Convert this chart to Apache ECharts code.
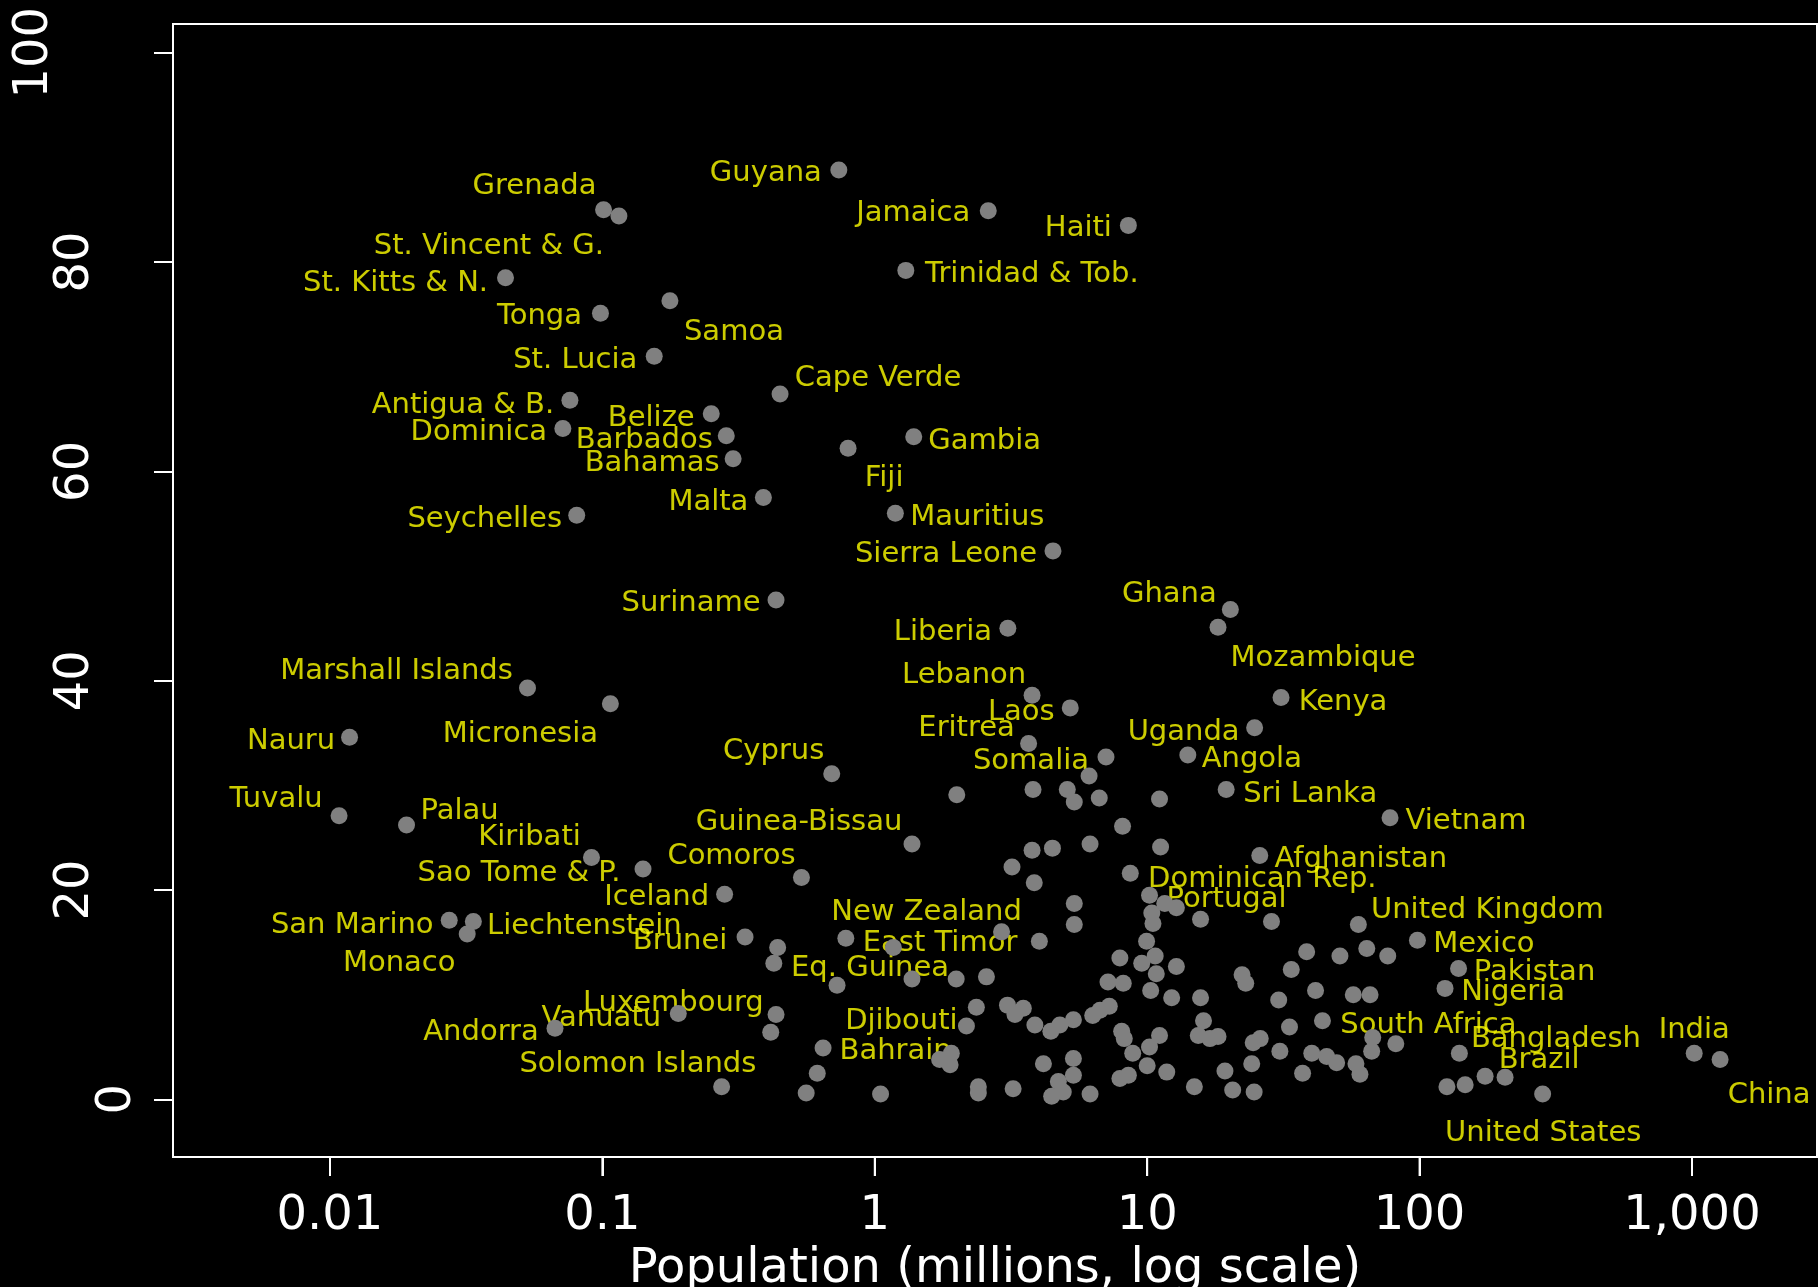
<!DOCTYPE html>
<html>
<head>
<meta charset="utf-8">
<script src="https://cdn.jsdelivr.net/npm/echarts@6/dist/echarts.min.js"></script>
<style>
html,body{margin:0;padding:0;background:#000;}
#chart{width:1818px;height:1287px;}
</style>
</head>
<body>
<div id="chart"></div>
<script>
// ---------- DATA ----------
const labeledNames = ['Grenada','St. Vincent & G.','St. Kitts & N.','Tonga','Samoa','St. Lucia','Antigua & B.','Dominica','Guyana','Jamaica','Haiti','Trinidad & Tob.','Cape Verde','Belize','Barbados','Gambia','Fiji','Bahamas','Malta','Mauritius','Sierra Leone','Seychelles','Suriname','Liberia','Ghana','Mozambique','Marshall Islands','Micronesia','Lebanon','Laos','Kenya','Nauru','Eritrea','Uganda','Somalia','Angola','Cyprus','Sri Lanka','Tuvalu','Palau','Vietnam','Guinea-Bissau','Kiribati','Afghanistan','Sao Tome & P.','Comoros','Dominican Rep.','Iceland','Portugal','United Kingdom','Mexico','San Marino','Liechtenstein','Monaco','Brunei','New Zealand','East Timor','Pakistan','Eq. Guinea','Nigeria','Luxembourg','Vanuatu','Andorra','Djibouti','South Africa','Bahrain','Bangladesh','India','Brazil','Solomon Islands','China','United States'];
const labeledPop = [0.101,0.115,0.0441,0.0984,0.177,0.155,0.076,0.0716,0.738,2.61,8.53,1.30,0.449,0.251,0.285,1.39,0.798,0.302,0.390,1.19,4.51,0.0805,0.434,3.08,20.2,18.2,0.0531,0.107,3.78,5.22,31.0,0.0118,3.67,24.8,7.06,14.1,0.695,19.5,0.0108,0.0191,77.9,1.37,0.0912,25.9,0.141,0.538,8.67,0.281,10.2,59.6,98.2,0.0274,0.0336,0.0319,0.334,2.92,1.17,139,0.727,124,0.434,0.190,0.067,2.17,44.0,1.73,140,1019,174,0.274,1268,283];
const labeledShare = [85.0,84.4,78.5,75.1,76.3,71.0,66.8,64.1,88.8,84.9,83.5,79.2,67.4,65.5,63.4,63.3,62.2,61.2,57.5,56.0,52.4,55.8,47.7,45.0,46.8,45.1,39.3,37.8,38.6,37.4,38.4,34.6,34.0,35.5,32.7,32.9,31.1,29.6,27.1,26.2,26.9,24.4,23.1,23.3,22.0,21.2,21.6,19.6,19.5,16.7,15.2,17.1,17.0,15.8,15.5,16.0,14.5,12.5,10.9,10.6,8.1,8.2,6.8,7.0,7.5,3.8,4.4,4.4,2.2,1.2,3.8,0.5];

const otherPop = [6.12,3.81,5.09,5.40,6.67,2.00,8.12,11.1,3.78,4.49,6.17,11.2,3.19,3.85,5.40,5.40,11.6,12.8,10.4,10.5,15.7,28.6,0.783,4.02,0.440,0.426,9.95,10.7,9.55,10.8,12.8,38.5,51.0,64.0,76.4,33.8,22.3,23.0,1.37,1.99,2.57,7.94,7.18,8.17,10.3,12.3,15.7,30.4,41.5,57.1,65.8,2.36,3.07,3.27,3.51,3.87,4.43,4.78,5.36,6.31,6.71,7.26,8.06,8.24,8.85,0.415,0.646,0.615,0.560,1.05,1.91,1.89,2.40,2.40,3.22,4.16,5.36,5.36,4.72,4.46,4.92,6.17,7.94,8.53,10.0,10.2,11.1,16.1,33.3,15.4,17.0,18.2,24.5,26.0,30.7,40.2,45.6,49.6,58.4,60.4,67.3,66.7,81.8,11.8,14.9,19.3,20.6,24.7,24.2,37.2,126,147,206];
const otherShare = [30.9,29.6,29.6,28.4,28.8,29.1,26.1,28.7,23.8,24.0,24.4,24.1,22.2,20.7,18.7,16.7,18.7,18.3,17.8,16.8,17.2,17.0,15.4,15.1,14.5,13.0,15.1,13.7,13.0,12.0,12.7,14.1,13.7,14.4,13.7,12.4,11.9,11.1,11.5,11.5,11.7,13.5,11.2,11.1,10.4,9.7,9.7,9.5,10.4,10.0,10.0,8.8,9.0,8.1,8.7,7.1,6.5,7.1,7.6,8.0,8.5,8.9,6.5,5.8,4.4,6.4,4.9,2.5,0.6,0.5,4.4,3.3,1.2,0.6,1.0,3.4,3.9,2.3,1.7,0.3,0.7,0.5,2.0,2.3,3.2,5.0,6.1,7.5,6.9,6.1,5.8,6.0,5.4,5.8,4.6,4.4,4.1,3.5,3.4,2.4,5.9,4.6,5.3,2.6,1.2,2.7,0.9,0.7,3.4,2.5,1.2,1.4,2.1];

const xTickValues = [0.01, 0.1, 1, 10, 100, 1000];
const xTickLabels = ['0.01', '0.1', '1', '10', '100', '1,000'];
const yTickValues = [0, 20, 40, 60, 80, 100];
const yTickLabels = ['0', '20', '40', '60', '80', '100'];
const xTitle = 'Population (millions, log scale)';

// ---------- LAYOUT (label placement relative to each point, px) ----------
const labelOffsets = {
  'Grenada':[-69,-26],'St. Vincent & G.':[-130,28],'St. Kitts & N.':[-110,3],'Tonga':[-61,1],'Samoa':[64,29],
  'St. Lucia':[-79,1.5],'Antigua & B.':[-107,3],'Dominica':[-84,2],'Guyana':[-73,1],'Jamaica':[-75,0],
  'Haiti':[-50,1],'Trinidad & Tob.':[126,2],'Cape Verde':[98,-18],'Belize':[-60,2.5],'Barbados':[-82,2],
  'Gambia':[71,2],'Fiji':[36,28],'Bahamas':[-81,2.5],'Malta':[-55,2],'Mauritius':[82,2],
  'Sierra Leone':[-107,1.5],'Seychelles':[-92,1.5],'Suriname':[-85,1],'Liberia':[-65,2],'Ghana':[-61,-18],
  'Mozambique':[105,29],'Marshall Islands':[-131,-19],'Micronesia':[-90,28],'Lebanon':[-68,-22],'Laos':[-49,2.5],
  'Kenya':[62,3],'Nauru':[-58.5,2],'Eritrea':[-62,-17.5],'Uganda':[-71,2],'Somalia':[-75,2],
  'Angola':[64,2],'Cyprus':[-58,-25],'Sri Lanka':[84,2],'Tuvalu':[-63,-18.5],'Palau':[53,-16.6],
  'Vietnam':[76,1.5],'Guinea-Bissau':[-113,-24],'Kiribati':[-62,-23],'Afghanistan':[101,2],'Sao Tome & P.':[-124,2],
  'Comoros':[-70,-23],'Dominican Rep.':[132,3.4],'Iceland':[-68,1],'Portugal':[77,1.3],'United Kingdom':[129,-17],
  'Mexico':[66.5,1.7],'San Marino':[-97,3],'Liechtenstein':[111,3],'Monaco':[-68,27],'Brunei':[-65,1.5],
  'New Zealand':[-75,-21.5],'East Timor':[46.7,-7],'Pakistan':[76,1.7],'Eq. Guinea':[33,-19.5],'Nigeria':[68,1.4],
  'Luxembourg':[-102.7,-14],'Vanuatu':[-77,2.5],'Andorra':[-74,2],'Djibouti':[-65,-7],'South Africa':[106,2],
  'Bahrain':[-44,-11],'Bangladesh':[96.5,-16.6],'India':[0,-25],'Brazil':[54,-18.4],'Solomon Islands':[-83.7,-25],
  'China':[49,33],'United States':[0.6,36.5]
};
const labelShiftY = 2.5;
const X_MIN = 0.002653, X_MAX = 2877;
const Y_MIN = -5.51, Y_MAX = 102.74;
const TICK_LEN = 19;

const FONT = 'DejaVu Sans';
const labelData = labeledNames.map((n, i) => {
  const o = labelOffsets[n] || [0, 0];
  return {
    name: n,
    value: [labeledPop[i], labeledShare[i]],
    label: { offset: [o[0], o[1] + labelShiftY] }
  };
});
const allPoints = labeledPop.map((p, i) => [p, labeledShare[i]])
  .concat(otherPop.map((p, i) => [p, otherShare[i]]));

// Marks use the log axis; decade tick labels come from a companion linear axis
// spanning the same range in log10 units (identical pixel mapping).
const xTickExp = xTickValues.map(v => Math.log10(v));

const chart = echarts.init(document.getElementById('chart'), null, { renderer: 'canvas' });
chart.setOption({
  backgroundColor: '#000',
  animation: false,
  grid: {
    left: 173, right: 1, top: 24, bottom: 130,
    containLabel: false, outerBoundsMode: 'none',
    show: true, borderColor: '#fff', borderWidth: 2, backgroundColor: 'transparent'
  },
  xAxis: [{
    type: 'log', logBase: 10, min: X_MIN, max: X_MAX,
    position: 'top', show: false
  }, {
    type: 'value', min: Math.log10(X_MIN), max: Math.log10(X_MAX),
    position: 'bottom',
    name: xTitle, nameLocation: 'middle', nameGap: 80,
    nameTextStyle: { color: '#fff', fontSize: 48, fontFamily: FONT },
    axisLine: { show: true, onZero: false, lineStyle: { color: '#fff', width: 2 } },
    splitLine: { show: false },
    axisTick: { show: true, inside: false, length: TICK_LEN, customValues: xTickExp, lineStyle: { color: '#fff', width: 2 } },
    axisLabel: {
      customValues: xTickExp, margin: 36, color: '#fff', fontSize: 48, fontFamily: FONT,
      formatter: v => {
        const i = xTickExp.findIndex(t => Math.abs(t - v) < 1e-6);
        return i >= 0 ? xTickLabels[i] : '';
      }
    }
  }],
  yAxis: {
    type: 'value', min: Y_MIN, max: Y_MAX, position: 'left',
    axisLine: { show: true, onZero: false, lineStyle: { color: '#fff', width: 2 } },
    splitLine: { show: false },
    axisTick: { show: true, length: TICK_LEN, customValues: yTickValues, lineStyle: { color: '#fff', width: 2 } },
    axisLabel: {
      customValues: yTickValues, rotate: 90, margin: 31, color: '#fff', fontSize: 48, fontFamily: FONT,
      formatter: v => {
        const i = yTickValues.findIndex(t => Math.abs(t - v) < 1e-6);
        if (i < 0) return '';
        const s = yTickLabels[i];
        return '{r' + s.length + '|' + s + '}';
      },
      rich: {
        r1: { color: '#fff', fontSize: 48, fontFamily: FONT, padding: [0, 0, 0, 0] },
        r2: { color: '#fff', fontSize: 48, fontFamily: FONT, padding: [0, 0, 42, 0] },
        r3: { color: '#fff', fontSize: 48, fontFamily: FONT, padding: [0, 0, 83, 0] }
      }
    }
  },
  series: [
    {
      type: 'scatter', z: 2, silent: true, xAxisIndex: 0,
      data: labelData,
      symbolSize: 17,
      itemStyle: { color: 'rgba(0,0,0,0)' },
      label: {
        show: true, formatter: '{b}', position: 'inside', align: 'center', verticalAlign: 'middle',
        color: '#ffff00', fontSize: 29, fontFamily: FONT
      },
      emphasis: { disabled: true }
    },
    {
      type: 'scatter', z: 3, silent: true, xAxisIndex: 0,
      data: allPoints,
      symbolSize: 17,
      itemStyle: { color: '#808080', opacity: 1 },
      emphasis: { disabled: true }
    }
  ]
});

// Decade tick marks below the box: positions come from the chart's own log scale.
const yBottom = chart.convertToPixel({ yAxisIndex: 0 }, Y_MIN);
const tickGraphics = xTickValues.map(v => {
  const x = chart.convertToPixel({ xAxisIndex: 0 }, v);
  return {
    type: 'line', silent: true, z: 100, zlevel: 2,
    shape: { x1: x, y1: yBottom, x2: x, y2: yBottom + TICK_LEN },
    style: { stroke: '#ffffff', lineWidth: 2 }
  };
});
chart.setOption({ graphic: tickGraphics });
</script>
</body>
</html>
